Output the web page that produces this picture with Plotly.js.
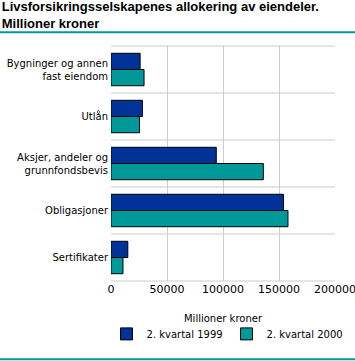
<!DOCTYPE html>
<html><head><meta charset="utf-8">
<script src="https://cdn.plot.ly/plotly-3.0.1.min.js"></script>
<style>html,body{margin:0;padding:0;background:#fff}</style>
</head><body>
<div id="chart" style="width:355px;height:361px"></div>
<script>
const categories = ["Bygninger og annen<br>fast eiendom", "Utlån", "Aksjer, andeler og<br>grunnfondsbevis", "Obligasjoner", "Sertifikater"];
const series1999 = [26000, 28000, 94000, 154000, 15000];
const series2000 = [29500, 25500, 136000, 158000, 10700];
const seriesNames = ["2. kvartal 1999", "2. kvartal 2000"];
const xTicks = [0, 50000, 100000, 150000, 200000];
const xTickLabels = ["0", "50000", "100000", "150000", "200000"];

const font = "'DejaVu Sans', Verdana, sans-serif";
const tfont = "Arial, 'Liberation Sans', sans-serif";
const traces = [
  {type:'bar', orientation:'h', name:seriesNames[0], y:categories, x:series1999,
   marker:{color:'#003399', line:{color:'#000', width:1}}},
  {type:'bar', orientation:'h', name:seriesNames[1], y:categories, x:series2000,
   marker:{color:'#009999', line:{color:'#000', width:1}}}
];
const layout = {
  width:355, height:361,
  margin:{l:111, r:20, t:46, b:80},
  paper_bgcolor:'#fff', plot_bgcolor:'#fff',
  font:{family:font, size:10, color:'#000'},
  title:{text:'<b>Livsforsikringsselskapenes allokering av eiendeler.<br>Millioner kroner</b>',
    x:0.005, xref:'container', xanchor:'left', y:0.97, yref:'container', yanchor:'top',
    font:{family:tfont, size:13, color:'#000'}},
  barmode:'group', bargap:0.31, bargroupgap:0,
  xaxis:{range:[0,200000], tickvals:xTicks, ticktext:xTickLabels, showgrid:true, gridcolor:'#cccccc',
    zeroline:false, showline:false, ticks:'', ticklabelstandoff:0, ticklabeloverflow:'allow', tickfont:{size:11},
    automargin:false, title:{text:'Millioner kroner', font:{size:10}, standoff:19}},
  yaxis:{autorange:'reversed', showgrid:false, ticks:'', showline:false, ticklabelstandoff:2, tickfont:{size:10}, automargin:false},
  legend:{orientation:'h', x:-0.02, xanchor:'left', y:-0.225, yanchor:'middle', font:{size:10},
    traceorder:'normal', entrywidth:75, entrywidthmode:'pixels'},
  shapes:[
    {type:'line', xref:'paper', yref:'paper', x0:-0.5, x1:1.1, y0:1.058, y1:1.058, line:{color:'#009999', width:2}},
    {type:'line', xref:'paper', yref:'paper', x0:-0.5, x1:1.1, y0:-0.333, y1:-0.333, line:{color:'#009999', width:2}},
    ...[0,1,2,3,4,5].map(i => ({type:'line', xref:'paper', yref:'paper', x0:0, x1:1, y0:i/5, y1:i/5, line:{color:'#cccccc', width:1}, layer:'below'}))
  ]
};
Plotly.newPlot('chart', traces, layout, {displayModeBar:false, staticPlot:true});
</script>
</body></html>
